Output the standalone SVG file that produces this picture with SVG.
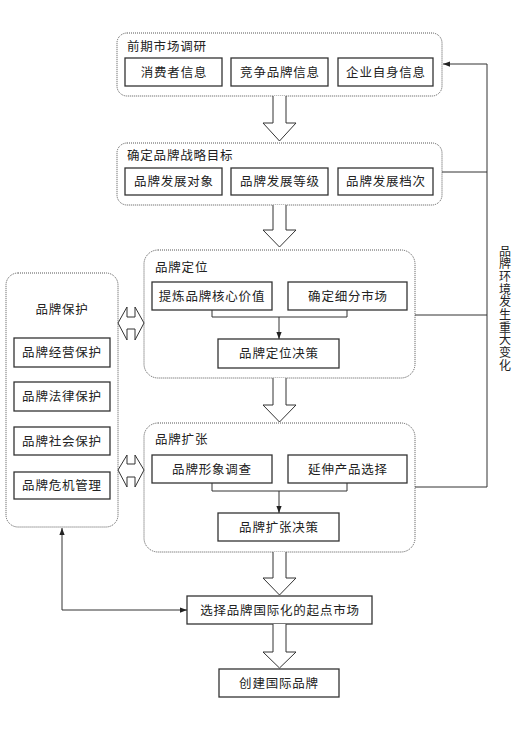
<svg xmlns="http://www.w3.org/2000/svg" width="518" height="733" viewBox="0 0 518 733">
<defs>
<marker id="ah" viewBox="0 0 8 8" refX="8" refY="4" markerWidth="7" markerHeight="7" markerUnits="userSpaceOnUse" orient="auto">
<path d="M0,1 L8,4 L0,7 Z" fill="#222"/>
</marker>
</defs>
<style>
.outer{fill:#fff;stroke:#555;stroke-width:1;stroke-dasharray:1 1}
.box{fill:#fff;stroke:#333;stroke-width:1.3}
.t{font-family:"Noto Sans CJK SC","Noto Sans",sans-serif;font-size:12.5px;fill:#222;letter-spacing:0.8px}
.c{text-anchor:middle}
.ln{fill:none;stroke:#333;stroke-width:1}
.blk{fill:#fff;stroke:#333;stroke-width:1}
</style>
<rect width="518" height="733" fill="#fff"/>

<g id="market-research">
<rect class="outer" x="117" y="33" width="325" height="63" rx="10"/>
<text class="t" x="127" y="51">前期市场调研</text>
<rect class="box" x="125" y="58" width="97" height="28"/>
<text class="t c" x="174" y="77">消费者信息</text>
<rect class="box" x="231" y="58" width="97" height="28"/>
<text class="t c" x="280" y="77">竞争品牌信息</text>
<rect class="box" x="338" y="58" width="95" height="28"/>
<text class="t c" x="386" y="77">企业自身信息</text>
</g>

<g id="strategy-goal">
<rect class="outer" x="117" y="143" width="325" height="62" rx="10"/>
<text class="t" x="127" y="160">确定品牌战略目标</text>
<rect class="box" x="125" y="168" width="97" height="27"/>
<text class="t c" x="174" y="186">品牌发展对象</text>
<rect class="box" x="231" y="168" width="97" height="27"/>
<text class="t c" x="280" y="186">品牌发展等级</text>
<rect class="box" x="338" y="168" width="95" height="27"/>
<text class="t c" x="386" y="186">品牌发展档次</text>
</g>

<g id="positioning">
<rect class="outer" x="144" y="250" width="271" height="128" rx="14"/>
<text class="t" x="155" y="272">品牌定位</text>
<rect class="box" x="152" y="282" width="120" height="28"/>
<text class="t c" x="212" y="301">提炼品牌核心价值</text>
<rect class="box" x="288" y="282" width="119" height="28"/>
<text class="t c" x="348" y="301">确定细分市场</text>
<rect class="box" x="218" y="339" width="121" height="29"/>
<text class="t c" x="279" y="358">品牌定位决策</text>
</g>

<g id="extension">
<rect class="outer" x="144" y="423" width="271" height="129" rx="14"/>
<text class="t" x="155" y="444">品牌扩张</text>
<rect class="box" x="152" y="455" width="120" height="28"/>
<text class="t c" x="212" y="474">品牌形象调查</text>
<rect class="box" x="288" y="455" width="119" height="28"/>
<text class="t c" x="348" y="474">延伸产品选择</text>
<rect class="box" x="218" y="513" width="121" height="28"/>
<text class="t c" x="279" y="532">品牌扩张决策</text>
</g>

<g id="protection">
<rect class="outer" x="6" y="273" width="112" height="254" rx="12"/>
<text class="t c" x="62" y="314">品牌保护</text>
<rect class="box" x="14" y="338" width="96" height="29"/>
<text class="t c" x="62" y="357">品牌经营保护</text>
<rect class="box" x="14" y="382" width="96" height="29"/>
<text class="t c" x="62" y="401">品牌法律保护</text>
<rect class="box" x="14" y="427" width="96" height="28"/>
<text class="t c" x="62" y="446">品牌社会保护</text>
<rect class="box" x="14" y="472" width="96" height="27"/>
<text class="t c" x="62" y="490">品牌危机管理</text>
</g>

<g id="start-market">
<rect class="box" x="187" y="596" width="185" height="28"/>
<text class="t c" x="280" y="615">选择品牌国际化的起点市场</text>
</g>

<g id="intl-brand">
<rect class="box" x="219" y="669" width="120" height="28"/>
<text class="t c" x="279" y="688">创建国际品牌</text>
</g>

<g id="env-change">
<text class="t" style="font-size:12px;letter-spacing:0.7px;writing-mode:tb" x="505" y="245">品牌环境发生重大变化</text>
</g>

<g id="connectors">
<path class="blk" d="M273,96 V123 H263 L279.5,141 L296,123 H286 V96"/>
<path class="blk" d="M273,205 V230 H263 L279.5,247 L296,230 H286 V205"/>
<path class="blk" d="M273,378 V405 H263 L279.5,422 L296,405 H286 V378"/>
<path class="blk" d="M273,552 V578 H263 L279.5,595 L296,578 H286 V552"/>
<path class="blk" d="M273,624 V652 H263 L279.5,668 L296,652 H286 V624"/>
<path class="blk" d="M118,323 L127,307 V317 H135 V307 L144,323 L135,340 V329 H127 V340 Z"/>
<path class="blk" d="M118,470 L127,455 V464 H135 V455 L144,470 L135,487 V477 H127 V487 Z"/>
<path class="ln" d="M212,310 V317 H347 V310"/>
<path class="ln" d="M279,317 V339" marker-end="url(#ah)"/>
<path class="ln" d="M212,483 V491 H347 V483"/>
<path class="ln" d="M279,491 V513" marker-end="url(#ah)"/>
<path class="ln" d="M415,487 H487 V64 H443" marker-end="url(#ah)"/>
<path class="ln" d="M442,172 H487"/>
<path class="ln" d="M415,315 H487"/>
<path class="ln" d="M62,610 V528" marker-end="url(#ah)"/>
<path class="ln" d="M62,610 H187" marker-end="url(#ah)"/>
</g>
</svg>
